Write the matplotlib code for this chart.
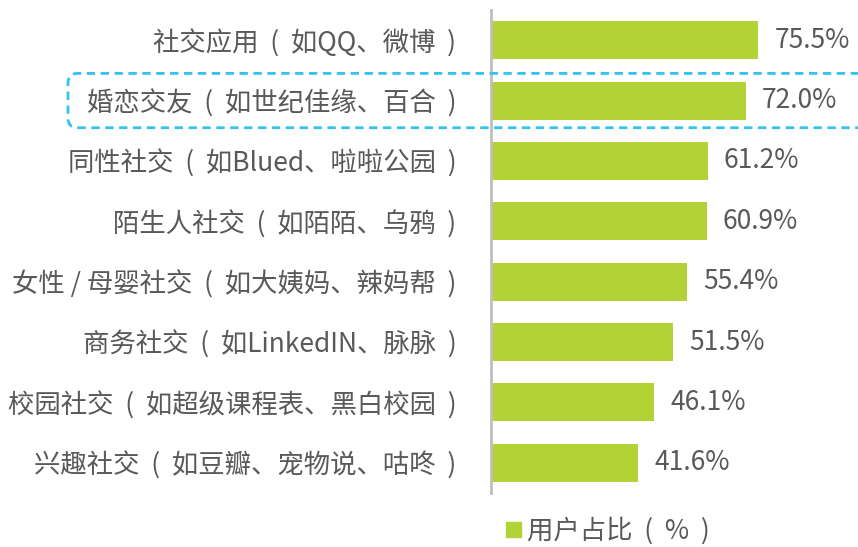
import matplotlib
matplotlib.use("Agg")
import matplotlib.pyplot as plt
from matplotlib.patches import FancyBboxPatch, Patch

plt.rcParams['font.family'] = ['Noto Sans CJK SC', 'DejaVu Sans']

categories = [
    "社交应用  (  如QQ、微博  )",
    "婚恋交友  (  如世纪佳缘、百合  )",
    "同性社交  (  如Blued、啦啦公园  )",
    "陌生人社交  (  如陌陌、乌鸦  )",
    "女性 / 母婴社交  (  如大姨妈、辣妈帮  )",
    "商务社交  (  如LinkedIN、脉脉  )",
    "校园社交  (  如超级课程表、黑白校园  )",
    "兴趣社交  (  如豆瓣、宠物说、咕咚  )",
]
values = [75.5, 72.0, 61.2, 60.9, 55.4, 51.5, 46.1, 41.6]
series_name = "用户占比  (  %  )"
highlight_index = 1

BAR_COLOR = "#B2D235"
TEXT_COLOR = "#595959"
BOX_COLOR = "#33C3EC"
W, H = 858, 547
FS = 19

fig = plt.figure(figsize=(W / 100, H / 100), dpi=100)
ax = fig.add_axes([491 / W, 1 - 493 / H, 1 - 491 / W, 483 / H])

ypos = list(range(len(categories)))
ax.barh(ypos, values, height=0.63, color=BAR_COLOR, zorder=2)
ax.set_ylim(len(categories) - 0.5, -0.5)
ax.set_xlim(0, (W - 491) / 3.54)

for y, v in zip(ypos, values):
    ax.text(v + 4.6, y, f"{v:.1f}%", va="center", ha="left",
            fontsize=FS, color=TEXT_COLOR)

ax.set_yticks(ypos)
ax.set_yticklabels(categories, fontsize=FS, color=TEXT_COLOR)
ax.tick_params(axis="y", length=0, pad=25)
ax.set_xticks([])
for s in ["top", "right", "bottom"]:
    ax.spines[s].set_visible(False)
ax.spines["left"].set_color("#BFBFBF")
ax.spines["left"].set_linewidth(2)
ax.patch.set_visible(False)

# dashed highlight box around the second row
fig.canvas.draw()
to_fig = ax.transData + fig.transFigure.inverted()
_, y0 = to_fig.transform((0, highlight_index + 0.45))
_, y1 = to_fig.transform((0, highlight_index - 0.45))
x0 = 68 / W
x1 = 1.02
box = FancyBboxPatch((x0, y0), x1 - x0, y1 - y0,
                     boxstyle="round,pad=0,rounding_size=0.011",
                     mutation_aspect=W / H,
                     transform=fig.transFigure, fill=False,
                     edgecolor=BOX_COLOR, linewidth=2, linestyle=(0, (3, 2)),
                     clip_on=False)
fig.patches.append(box)

leg = fig.legend(handles=[Patch(color=BAR_COLOR, label=series_name)],
                 loc="center left", bbox_to_anchor=(506 / W, 1 - 531 / H),
                 bbox_transform=fig.transFigure, frameon=False,
                 borderaxespad=0, borderpad=0,
                 handlelength=0.55, handleheight=0.55, handletextpad=0.25,
                 fontsize=FS)
for t in leg.get_texts():
    t.set_color(TEXT_COLOR)

fig.savefig("out.png", dpi=100)
